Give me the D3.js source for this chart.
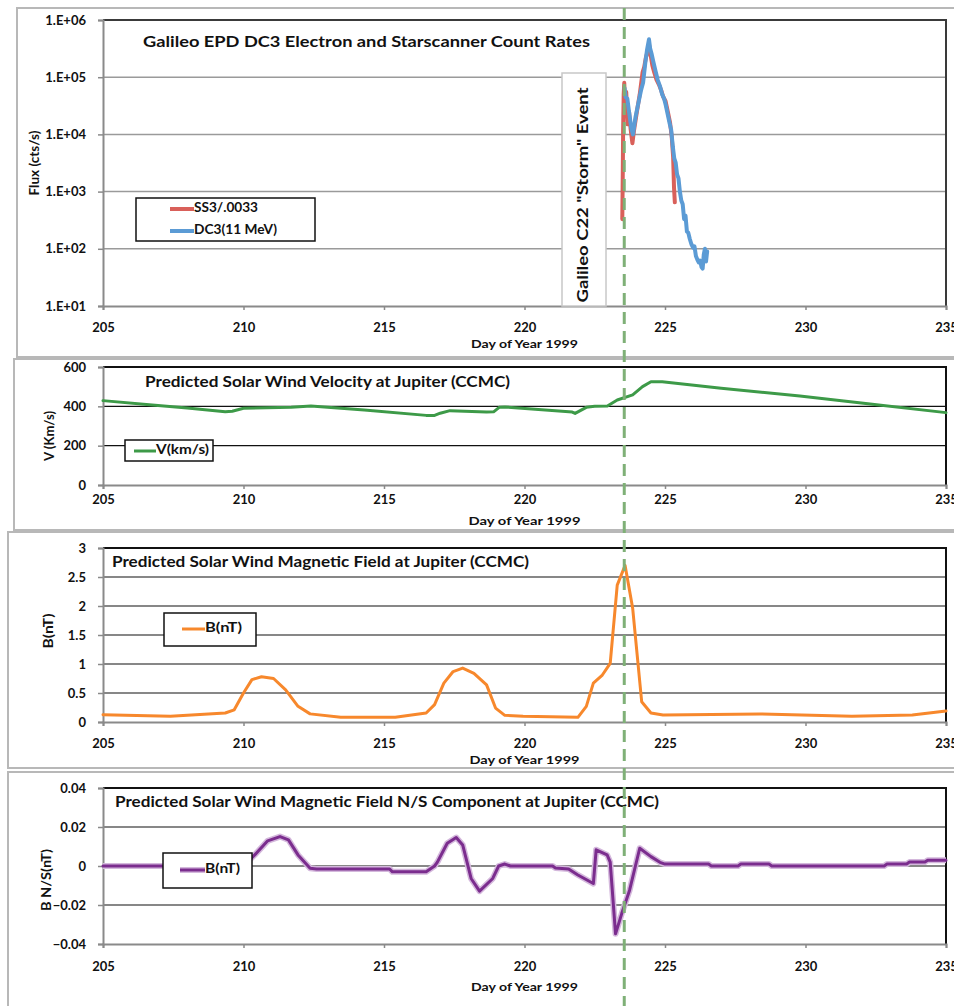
<!DOCTYPE html>
<html>
<head>
<meta charset="utf-8">
<script src="https://cdn.jsdelivr.net/npm/d3@7"></script>
<style>
  body { margin: 0; background: #fff; }
  text { font-family: Lato, "Open Sans", sans-serif; font-weight: bold; fill: #111; }
</style>
</head>
<body>
<svg id="chart" width="954" height="1006"></svg>
<script>
// ---- data ----
const dayTicks = [205, 210, 215, 220, 225, 230, 235];
const stormDay = 223.55;

const fluxTicks = [1e1, 1e2, 1e3, 1e4, 1e5, 1e6];
const ss3Days = [223.48, 223.49, 223.50, 223.51, 223.53, 223.55, 223.58, 223.62, 223.67, 223.72, 223.78, 223.84, 223.90, 224.00, 224.10, 224.20, 224.26, 224.32, 224.38, 224.43, 224.48, 224.55, 224.62, 224.70, 224.78, 224.86, 224.94, 225.02, 225.10, 225.18, 225.24, 225.29, 225.32, 225.35];
const ss3Flux = [330, 900, 3000, 12000, 50000, 80000, 35000, 55000, 15000, 25000, 12000, 7000, 12000, 25000, 50000, 120000, 150000, 220000, 280000, 380000, 260000, 160000, 120000, 90000, 75000, 60000, 45000, 38000, 25000, 16000, 9000, 4000, 1200, 650];
const dc3Days = [223.56, 223.60, 223.66, 223.72, 223.80, 223.86, 223.95, 224.05, 224.15, 224.22, 224.30, 224.36, 224.43, 224.47, 224.52, 224.58, 224.66, 224.74, 224.82, 224.90, 224.97, 225.03, 225.10, 225.16, 225.22, 225.28, 225.33, 225.38, 225.43, 225.48, 225.53, 225.58, 225.63, 225.68, 225.73, 225.78, 225.83, 225.88, 225.94, 226.00, 226.05, 226.10, 226.15, 226.20, 226.25, 226.30, 226.34, 226.38, 226.42, 226.46, 226.50];
const dc3Flux = [65000, 45000, 42000, 25000, 13000, 10000, 20000, 35000, 60000, 80000, 180000, 300000, 460000, 320000, 260000, 190000, 130000, 90000, 70000, 50000, 42000, 32000, 22000, 16000, 12000, 6000, 3800, 3200, 2000, 1700, 1000, 700, 600, 330, 380, 200, 190, 150, 120, 105, 110, 75, 65, 58, 62, 48, 45, 80, 100, 60, 90];

const velTicks = [0, 200, 400, 600];
const velDays = [205, 206.75, 208, 209.35, 209.6, 210, 211.7, 212.4, 214.3, 216.5, 216.8, 217.0, 217.35, 218.65, 218.9, 219.1, 219.3, 221.7, 221.8, 222.2, 222.5, 222.95, 223.3, 223.85, 224.2, 224.5, 224.9, 227, 229.8, 232.3, 235];
const velValues = [429, 407, 392, 373, 375, 390, 395, 402, 381, 354, 354, 365, 378, 371, 372, 395, 397, 371, 364, 395, 400, 402, 432, 458, 500, 525, 525, 492, 452, 412, 368];

const bTicks = [0, 0.5, 1, 1.5, 2, 2.5, 3];
const bDays = [205, 207.4, 209.35, 209.67, 210.0, 210.3, 210.64, 211.07, 211.5, 211.94, 212.37, 213.46, 215.4, 216.5, 216.8, 217.13, 217.46, 217.8, 218.2, 218.65, 218.97, 219.3, 219.95, 221.9, 222.2, 222.45, 222.77, 223.05, 223.3, 223.58, 223.85, 224.17, 224.5, 224.93, 228.4, 231.65, 233.8, 235];
const bValues = [0.125, 0.10, 0.155, 0.21, 0.50, 0.73, 0.78, 0.75, 0.555, 0.27, 0.14, 0.08, 0.08, 0.155, 0.30, 0.67, 0.87, 0.93, 0.84, 0.64, 0.24, 0.115, 0.10, 0.08, 0.27, 0.67, 0.81, 1.01, 2.36, 2.70, 1.96, 0.35, 0.155, 0.12, 0.14, 0.10, 0.12, 0.19];

const bnsTicks = [-0.04, -0.02, 0, 0.02, 0.04];
const bnsDays = [205, 210.0, 210.4, 210.86, 211.3, 211.6, 211.94, 212.37, 212.6, 215.2, 215.3, 216.5, 216.8, 216.9, 217.25, 217.57, 217.8, 218.1, 218.4, 218.87, 219.08, 219.3, 219.5, 221.0, 221.1, 221.57, 221.9, 222.45, 222.55, 222.94, 223.05, 223.24, 223.46, 223.74, 224.1, 224.5, 224.82, 225.0, 226.55, 226.65, 227.6, 227.7, 228.7, 228.8, 232.8, 232.9, 233.6, 233.7, 234.25, 234.35, 235];
const bnsValues = [0, 0, 0.0057, 0.0129, 0.0151, 0.0134, 0.0057, -0.0012, -0.0015, -0.0015, -0.003, -0.003, 0, 0.002, 0.0117, 0.0146, 0.0108, -0.0064, -0.0129, -0.0064, 0, 0.001, 0, 0, -0.001, -0.0015, -0.0046, -0.009, 0.0083, 0.0057, 0.002, -0.0348, -0.0244, -0.0124, 0.0091, 0.0048, 0.0019, 0.001, 0.001, 0, 0, 0.001, 0.001, 0, 0, 0.001, 0.001, 0.002, 0.002, 0.003, 0.003];

// ---- drawing ----
const svg = d3.select('#chart');
const x = d3.scaleLinear().domain([205, 235]).range([103, 946]);

// the source figure is stretched sideways, so texts are fitted to their widths
function fit(sel, w) {
    return sel.attr('textLength', w).attr('lengthAdjust', 'spacingAndGlyphs');
}

function drawPanel(p) {
    const g = svg.append('g');
    g.append('rect')
        .attr('x', p.box[0]).attr('y', p.box[1])
        .attr('width', 980 - p.box[0]).attr('height', p.box[2] - p.box[1])
        .attr('fill', 'none').attr('stroke', '#b8b8b8').attr('stroke-width', 2);

    const y = p.y;
    const top = y.range()[1], bottom = y.range()[0];

    g.selectAll('line.grid').data(p.ticks.slice(1, -1)).enter().append('line')
        .attr('x1', x(205)).attr('x2', x(235))
        .attr('y1', d => y(d)).attr('y2', d => y(d))
        .attr('stroke', p.gridColor).attr('stroke-width', p.gridWidth);

    g.append('path')
        .attr('d', `M${x(205)},${top}H${x(235)}V${bottom}`)
        .attr('fill', 'none').attr('stroke', p.borderColor).attr('stroke-width', 2);

    const ya = g.append('g').attr('transform', `translate(${x(205)},0)`)
        .call(d3.axisLeft(y).tickValues(p.ticks).tickFormat(p.fmt).tickSize(5).tickPadding(12));
    const xa = g.append('g').attr('transform', `translate(0,${bottom})`)
        .call(d3.axisBottom(x).tickValues(dayTicks).tickFormat(d3.format('d')).tickSize(4).tickPadding(p.xPad));
    [ya, xa].forEach(a => {
        a.select('.domain').attr('stroke', '#8a8a8a').attr('stroke-width', 2);
        a.selectAll('.tick line').attr('stroke', '#8a8a8a').attr('stroke-width', 1.5);
        a.selectAll('.tick text').style('font-size', '13px').style('font-family', 'Lato, sans-serif')
            .style('font-weight', 'bold').attr('fill', '#111');
    });

    fit(g.append('text').attr('x', (x(205) + x(235)) / 2).attr('y', p.xTitle[0])
        .attr('text-anchor', 'middle').attr('dominant-baseline', 'middle')
        .style('font-size', '12px').text('Day of Year 1999'), p.xTitle[1]);
    fit(g.append('text')
        .attr('transform', `translate(${p.yTitle[0]},${p.yTitle[1]}) rotate(-90)`)
        .attr('text-anchor', 'middle').attr('dominant-baseline', 'middle')
        .style('font-size', '12.5px').text(p.yLabel), p.yTitle[2]);
    fit(g.append('text').attr('x', p.title[0]).attr('y', p.title[1])
        .attr('dominant-baseline', 'middle')
        .style('font-size', p.title[2] + 'px').text(p.titleText), p.title[3]);

    const line = d3.line().x(d => x(d[0])).y(d => y(d[1]));
    p.series.forEach(s => {
        const pts = d3.zip(s.days, s.values);
        if (s.halo) {
            g.append('path').attr('d', line(pts)).attr('fill', 'none')
                .attr('stroke', s.halo).attr('stroke-width', 6).attr('stroke-linejoin', 'round');
        }
        g.append('path').attr('d', line(pts)).attr('fill', 'none')
            .attr('stroke', s.color).attr('stroke-width', s.width)
            .attr('stroke-linejoin', 'round').attr('stroke-linecap', 'round');
    });

    // legend sits above the lines
    const lg = g.append('g');
    lg.append('rect').attr('x', p.legend[0]).attr('y', p.legend[1])
        .attr('width', p.legend[2]).attr('height', p.legend[3])
        .attr('fill', '#fff').attr('stroke', '#111').attr('stroke-width', 1.5);
    p.series.forEach((s, i) => {
        const ly = p.legend[1] + p.legendRows[i];
        if (s.halo) {
            lg.append('line').attr('x1', p.legendLine[0]).attr('x2', p.legendLine[1])
                .attr('y1', ly).attr('y2', ly).attr('stroke', s.halo).attr('stroke-width', 6);
        }
        lg.append('line').attr('x1', p.legendLine[0]).attr('x2', p.legendLine[1])
            .attr('y1', ly).attr('y2', ly).attr('stroke', s.color).attr('stroke-width', s.width);
        fit(lg.append('text').attr('x', p.legendLine[1]).attr('y', ly)
            .attr('dominant-baseline', 'middle').style('font-size', '13px').text(s.name), p.legendText[i]);
    });
    return g;
}

const p1 = drawPanel({
    box: [17, 8, 357],
    y: d3.scaleLog().domain([10, 1e6]).range([306, 20]),
    ticks: fluxTicks,
    fmt: d => '1.E+' + String(Math.round(Math.log10(d))).padStart(2, '0'),
    gridColor: '#9a9a9a', gridWidth: 1.5, borderColor: '#3a3a3a',
    xPad: 13, xTitle: [345, 107],
    yLabel: 'Flux (cts/s)', yTitle: [36, 163, 65],
    title: [143, 43, 16, 447], titleText: 'Galileo EPD DC3 Electron and Starscanner Count Rates',
    legend: [136, 198, 179, 43], legendRows: [11, 33], legendLine: [170, 194], legendText: [64, 83],
    series: [
        { name: 'SS3/.0033', days: ss3Days, values: ss3Flux, color: '#d9605a', width: 4 },
        { name: 'DC3(11 MeV)', days: dc3Days, values: dc3Flux, color: '#5b9bd5', width: 4 }
    ]
});

// storm annotation box
p1.append('rect').attr('x', 562).attr('y', 73).attr('width', 44).attr('height', 233)
    .attr('fill', '#fff').attr('stroke', '#c8c8c8').attr('stroke-width', 1.5);
fit(p1.append('text').attr('transform', 'translate(584,195) rotate(-90)')
    .attr('text-anchor', 'middle').attr('dominant-baseline', 'middle')
    .style('font-size', '16px').text('Galileo C22 "Storm" Event'), 215);

drawPanel({
    box: [14, 359, 530],
    y: d3.scaleLinear().domain([0, 600]).range([485, 367]),
    ticks: velTicks, fmt: d3.format('d'),
    gridColor: '#111', gridWidth: 1.2, borderColor: '#111',
    xPad: 6, xTitle: [522, 112],
    yLabel: 'V (Km/s)', yTitle: [51, 436, 50],
    title: [145, 383, 15, 365], titleText: 'Predicted Solar Wind Velocity at Jupiter (CCMC)',
    legend: [125, 440, 88, 21], legendRows: [11], legendLine: [134, 156], legendText: [53],
    series: [{ name: 'V(km/s)', days: velDays, values: velValues, color: '#3d9a48', width: 3 }]
});

drawPanel({
    box: [8, 532, 768],
    y: d3.scaleLinear().domain([0, 3]).range([722, 548]),
    ticks: bTicks, fmt: d => String(d),
    gridColor: '#111', gridWidth: 1.2, borderColor: '#111',
    xPad: 13, xTitle: [761, 110],
    yLabel: 'B(nT)', yTitle: [50, 631, 35],
    title: [112, 563, 15, 417], titleText: 'Predicted Solar Wind Magnetic Field at Jupiter (CCMC)',
    legend: [164, 613, 92, 33], legendRows: [16], legendLine: [182, 205], legendText: [37],
    series: [{ name: 'B(nT)', days: bDays, values: bValues, color: '#f7882c', width: 3 }]
});

drawPanel({
    box: [8, 772, 1012],
    y: d3.scaleLinear().domain([-0.04, 0.04]).range([944, 788]),
    ticks: bnsTicks, fmt: d => d === 0 ? '0' : d3.format('.2f')(d),
    gridColor: '#111', gridWidth: 1.2, borderColor: '#111',
    xPad: 14, xTitle: [988, 107],
    yLabel: 'B N/S(nT)', yTitle: [48, 880, 62],
    title: [115, 803, 15, 544], titleText: 'Predicted Solar Wind Magnetic Field N/S Component at Jupiter (CCMC)',
    legend: [163, 853, 89, 35], legendRows: [17], legendLine: [180, 205], legendText: [35],
    series: [{ name: 'B(nT)', days: bnsDays, values: bnsValues, color: '#7b2d8e', width: 3, halo: '#d4b8dc' }]
});

// dashed storm marker through all panels
svg.append('line')
    .attr('x1', x(stormDay)).attr('x2', x(stormDay))
    .attr('y1', 8).attr('y2', 1006)
    .attr('stroke', '#7fb077').attr('stroke-width', 3).attr('stroke-dasharray', '12,7');
</script>
</body>
</html>
